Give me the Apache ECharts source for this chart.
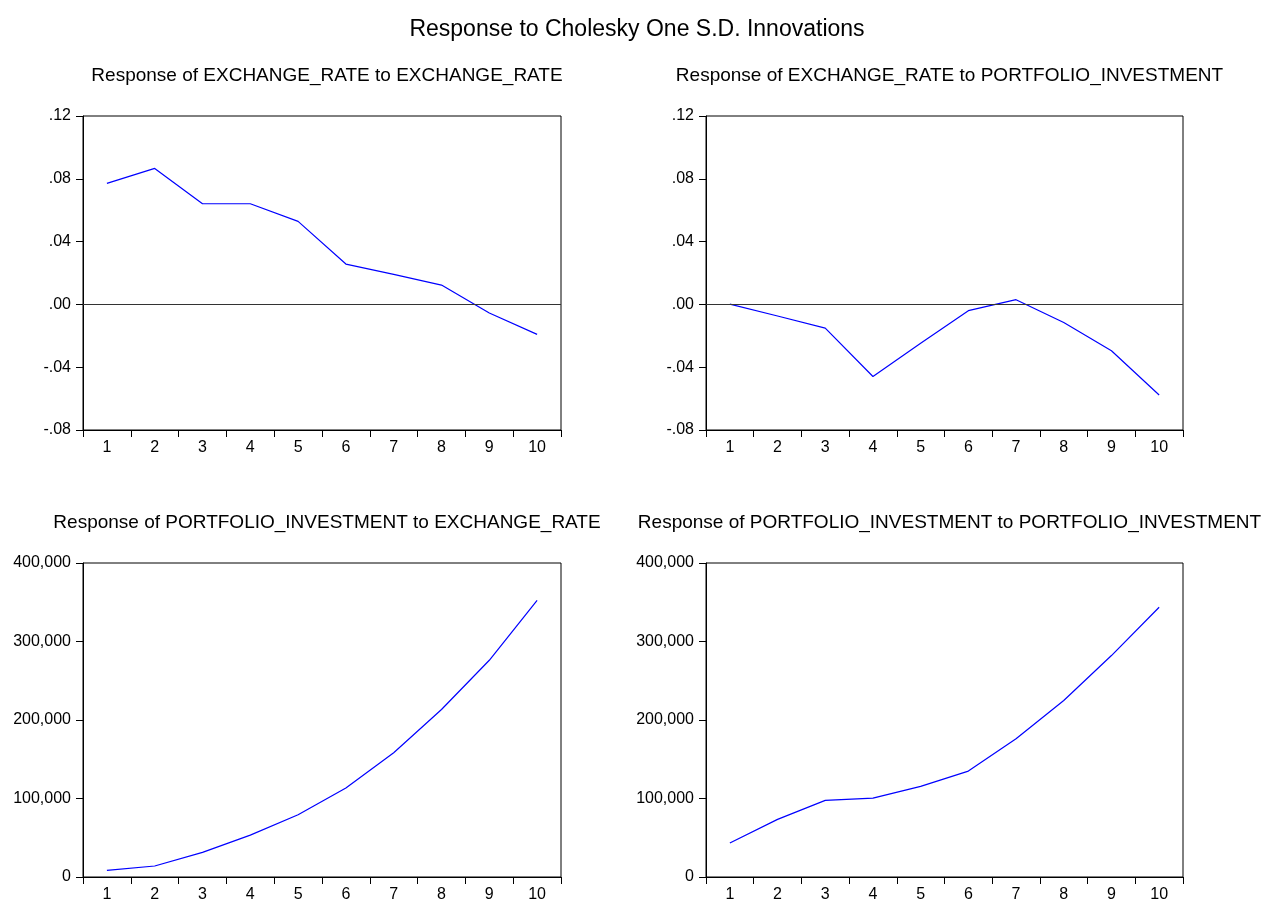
<!DOCTYPE html>
<html>
<head>
<meta charset="utf-8">
<title>Response to Cholesky One S.D. Innovations</title>
<script src="https://cdn.jsdelivr.net/npm/echarts@6/dist/echarts.min.js"></script>
<style>
  html, body { margin: 0; padding: 0; background: #fff; }
  #chart { width: 1268px; height: 903px; }
</style>
</head>
<body>
<div id="chart"></div>
<script>
// periods after the shock
const periods = ['1', '2', '3', '4', '5', '6', '7', '8', '9', '10'];

// impulse responses
const exchToExch = [0.0771, 0.0866, 0.0641, 0.0641, 0.0529, 0.0257, 0.0191, 0.0123, -0.0055, -0.0191];
const exchToPortfolio = [0.0002, -0.0074, -0.0151, -0.0459, -0.0248, -0.0040, 0.0030, -0.0115, -0.0295, -0.0577];
const portfolioToExch = [8500, 14000, 31400, 53400, 79300, 113300, 158200, 213400, 276100, 352500];
const portfolioToPortfolio = [43300, 73400, 97600, 100500, 115400, 134900, 176000, 224800, 282100, 343600];

const panelTitles = [
  'Response of EXCHANGE_RATE to EXCHANGE_RATE',
  'Response of EXCHANGE_RATE to PORTFOLIO_INVESTMENT',
  'Response of PORTFOLIO_INVESTMENT to EXCHANGE_RATE',
  'Response of PORTFOLIO_INVESTMENT to PORTFOLIO_INVESTMENT'
];

const FONT = '"Liberation Sans", Arial, sans-serif';

// panel boxes in pixels
const boxes = [
  { left: 83, top: 116, width: 478, height: 314 },
  { left: 706, top: 116, width: 477, height: 314 },
  { left: 83, top: 563, width: 478, height: 314 },
  { left: 706, top: 563, width: 477, height: 314 }
];

const rateFmt = v => {
  if (Math.abs(v) < 1e-9) return '.00';
  return (v < 0 ? '-' : '') + Math.abs(v).toFixed(2).replace(/^0/, '');
};
const bigFmt = v => Math.round(v).toLocaleString('en-US');

const chart = echarts.init(document.getElementById('chart'));

const grids = boxes.map(b => ({
  left: b.left, top: b.top, width: b.width, height: b.height,
  show: true, borderColor: '#000', borderWidth: 1, backgroundColor: '#fff'
}));

const xAxes = boxes.map((b, i) => ({
  type: 'category',
  gridIndex: i,
  data: periods,
  boundaryGap: true,
  axisLine: { onZero: false, lineStyle: { color: '#000', width: 1 } },
  axisTick: { show: true, length: 7, lineStyle: { color: '#000' } },
  axisLabel: { color: '#000', fontSize: 16, fontFamily: FONT, margin: 10 },
  splitLine: { show: false }
}));

const yAxes = boxes.map((b, i) => {
  const isRate = i < 2;
  return {
    type: 'value',
    gridIndex: i,
    min: isRate ? -0.08 : 0,
    max: isRate ? 0.12 : 400000,
    interval: isRate ? 0.04 : 100000,
    axisLine: { show: true, lineStyle: { color: '#000', width: 1 } },
    axisTick: { show: true, length: 7, lineStyle: { color: '#000' } },
    axisLabel: { color: '#000', fontSize: 16, fontFamily: FONT, margin: 12, formatter: isRate ? rateFmt : bigFmt },
    splitLine: { show: false }
  };
});

// thin zero reference line in the exchange-rate panels
const zeroLine = {
  silent: true,
  symbol: 'none',
  label: { show: false },
  lineStyle: { color: '#333', width: 1, type: 'solid' },
  data: [{ yAxis: 0 }]
};

const seriesData = [exchToExch, exchToPortfolio, portfolioToExch, portfolioToPortfolio];

const series = seriesData.map((d, i) => ({
  type: 'line',
  xAxisIndex: i,
  yAxisIndex: i,
  data: d,
  symbol: 'none',
  animation: false,
  lineStyle: { color: '#0000ff', width: 1.2 },
  markLine: i < 2 ? zeroLine : undefined
}));

const titles = [{
  text: 'Response to Cholesky One S.D. Innovations',
  left: 632, top: 13, textAlign: 'center',
  textStyle: { fontSize: 23, fontWeight: 'normal', color: '#000', fontFamily: FONT }
}].concat(panelTitles.map((t, i) => ({
  text: t,
  left: boxes[i].left + boxes[i].width / 2,
  top: boxes[i].top - 55,
  textAlign: 'center',
  textStyle: { fontSize: 19, fontWeight: 'normal', color: '#000', fontFamily: FONT }
})));

chart.setOption({
  backgroundColor: '#fff',
  animation: false,
  title: titles,
  grid: grids,
  xAxis: xAxes,
  yAxis: yAxes,
  series: series
});
</script>
</body>
</html>
